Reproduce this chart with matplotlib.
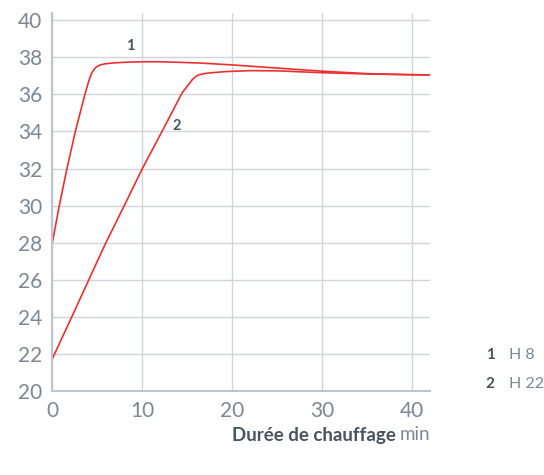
import numpy as np
import matplotlib.pyplot as plt

# data
t1 = [0, 0.81, 1.66, 2.59, 3.63, 4.07, 4.3, 4.5, 4.81, 5.1, 5.37, 5.92, 6.67, 8, 10, 12, 14.07, 16.5, 20, 25, 30, 35, 40, 42]
h8 = [27.9, 30.0, 32.0, 34.0, 35.95, 36.7, 37.02, 37.23, 37.43, 37.53, 37.59, 37.65, 37.69, 37.73, 37.76, 37.76,
      37.73, 37.69, 37.59, 37.42, 37.25, 37.12, 37.06, 37.05]
t2 = [0, 2.2, 4.07, 5.92, 8.03, 10, 12.22, 14.44, 15.2, 15.56, 15.9, 16.3, 16.9, 17.8, 19.3, 22, 25, 30, 35, 40, 42]
h22 = [21.7, 24.0, 25.98, 27.93, 30.0, 31.96, 34.0, 36.07, 36.55, 36.78, 36.94, 37.05, 37.12, 37.17, 37.23, 37.28,
       37.27, 37.17, 37.1, 37.06, 37.05]
legend_nums = ["1", "2"]
legend_names = ["H 8", "H 22"]
xticks = [0, 10, 20, 30, 40]
yticks = list(range(20, 41, 2))

grid_c = "#cfd5db"
text_c = "#7b8792"
dark_c = "#46545f"
red = "#e8312f"

plt.rcParams['font.family'] = ['Lato', 'DejaVu Sans']

fig = plt.figure(figsize=(5.44, 4.75), dpi=100)
ax = fig.add_axes([0.0956, 0.177, 0.695, 0.796])

ax.plot(t1, h8, color=red, lw=1.2, solid_joinstyle='round')
ax.plot(t2, h22, color=red, lw=1.2, solid_joinstyle='round')

ax.text(8.7, 38.6, "1", color=dark_c, fontsize=10.5, fontweight='bold', ha='center', va='center')
ax.text(13.9, 34.3, "2", color=dark_c, fontsize=10.5, fontweight='bold', ha='center', va='center')

ax.set_xlim(0, 42)
ax.set_ylim(20, 40.4)
ax.set_xticks(xticks)
ax.set_yticks(yticks)
ax.grid(True, color=grid_c, lw=1)
ax.set_axisbelow(True)
for s in ["top", "right"]:
    ax.spines[s].set_visible(False)
for s in ["left", "bottom"]:
    ax.spines[s].set_color("#bcc4cc")
    ax.spines[s].set_linewidth(1.5)
ax.tick_params(length=0, labelsize=15, labelcolor=text_c, pad=7)

# legend on the right
for i, (n, name) in enumerate(zip(legend_nums, legend_names)):
    y = 1 - (355 + 29 * i) / 475
    fig.text(490 / 544, y, n, color=dark_c, fontsize=11, fontweight='bold', ha='center', va='center')
    fig.text(509 / 544, y, name, color=text_c, fontsize=11.5, ha='left', va='center')

# x label, bold part + unit
t = fig.text(430 / 544, 1 - 435 / 475, "min", color=text_c, fontsize=13.5, ha='right', va='center')
fig.canvas.draw()
bb = t.get_window_extent()
fig.text((bb.x0 - 4) / fig.bbox.width, 1 - 435 / 475, "Durée de chauffage", color=dark_c, fontsize=13.5,
         fontweight='bold', ha='right', va='center')

fig.savefig("out.png", dpi=100)
